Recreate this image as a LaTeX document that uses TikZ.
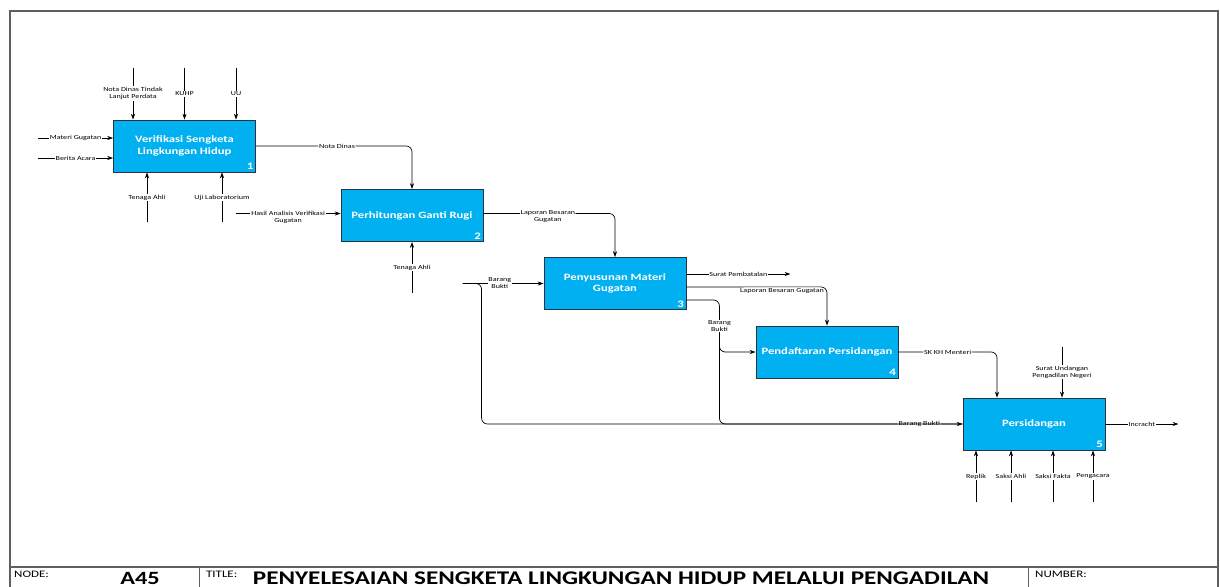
\documentclass[tikz,border=0pt]{standalone}
\usepackage{fontspec}
\setmainfont{Carlito}[FakeStretch=1.3]
\usetikzlibrary{arrows.meta, calc}
\definecolor{boxblue}{RGB}{0,176,240}
\definecolor{boxline}{RGB}{40,52,66}
\definecolor{framegray}{RGB}{95,95,95}
\tikzstyle{procbox} = [rectangle, minimum width=4.26cm, minimum height=1.56cm, text centered, align=center, draw=boxline, line width=0.7pt, fill=boxblue, text=white, font=\fontsize{8.3}{10}\selectfont\bfseries]
\tikzstyle{numlbl} = [anchor=south east, inner sep=2pt, text=white, font=\fontsize{8.5}{9}\selectfont\bfseries]
\tikzstyle{lbl} = [fill=white, inner sep=0.8pt, align=center, font=\fontsize{5.3}{6}\selectfont]
\tikzstyle{flow} = [line width=0.6pt, -{Stealth[length=5pt,width=3.5pt]}]
\tikzstyle{wire} = [line width=0.6pt]
\tikzstyle{strip} = [anchor=west, font=\fontsize{8.5}{9}\selectfont]

\begin{document}
\begin{tikzpicture}[x=0.03cm,y=-0.03cm]
\useasboundingbox (0,0) rectangle (1220,587);
% frame and title strip
\draw[framegray, line width=1pt] (10,587) -- (10,11) -- (1218,11) -- (1218,587);
\draw[framegray, line width=1.6pt] (10,567) -- (1218,567);
\draw[framegray, line width=0.8pt] (199,567) -- (199,587) (1028,567) -- (1028,587);
\node[strip] (nodelbl) at (10,574) {NODE:};
\node[font=\fontsize{16}{17}\selectfont\bfseries] (nodeno) at (140,578) {A45};
\node[strip] (titlelbl) at (202,574) {TITLE:};
\node[font=\fontsize{16.5}{17}\selectfont\bfseries] (title) at (621,578) {PENYELESAIAN SENGKETA LINGKUNGAN HIDUP MELALUI PENGADILAN};
\node[strip] (numlbl) at (1031,574) {NUMBER:};

% activities
\node[procbox] (p1) at (184.5,146) {Verifikasi Sengketa\\Lingkungan Hidup};
\node[procbox] (p2) at (412,215.5) {Perhitungan Ganti Rugi};
\node[procbox] (p3) at (615,283.5) {Penyusunan Materi\\Gugatan};
\node[procbox] (p4) at (827,352) {Pendaftaran Persidangan};
\node[procbox] (p5) at (1034,424) {Persidangan};
\foreach \b/\n in {p1/1,p2/2,p3/3,p4/4,p5/5}
	\node[numlbl] (n\n) at (\b.south east) {\n};

% box 1
\foreach \dx/\nm/\txt in {-51.5/ndt/{Nota Dinas Tindak\\Lanjut Perdata}, 0/kuhp/KUHP, 51.5/uu/UU}{
	\coordinate (\nm) at ($(p1.north)+(\dx,-52)$);
	\draw[flow] (\nm) -- node[lbl] (l\nm) {\txt} ($(p1.north)+(\dx,0)$);}
\foreach \dy/\nm/\txt in {-8/mg/Materi Gugatan, 12/ba/Berita Acara}{
	\coordinate (\nm) at ($(p1.west)+(-75,\dy)$);
	\draw[flow] (\nm) -- node[lbl] (l\nm) {\txt} ($(p1.west)+(0,\dy)$);}
\foreach \dx/\nm/\txt in {-37.5/ta1/Tenaga Ahli, 37.5/ul/Uji Laboratorium}{
	\coordinate (\nm) at ($(p1.south)+(\dx,50)$);
	\draw[flow] (\nm) -- node[lbl] (l\nm) {\txt} ($(p1.south)+(\dx,0)$);}
\draw[flow, rounded corners=5] (p1.east) -| node[lbl, pos=0.26] (lnd) {Nota Dinas} (p2.north);

% box 2
\coordinate (han) at ($(p2.west)+(-105,-2)$);
\draw[flow] (han) -- node[lbl, yshift=-3pt] (lhan) {Hasil Analisis Verifikasi\\Gugatan} ($(p2.west)+(0,-2)$);
\coordinate (ta2) at ($(p2.south)+(0,51)$);
\draw[flow] (ta2) -- node[lbl] (lta2) {Tenaga Ahli} (p2.south);
\draw[flow, rounded corners=5] ($(p2.east)+(0,-2)$) -| node[lbl, pos=0.245, yshift=-3pt] (llbg1) {Laporan Besaran\\Gugatan} (p3.north);

% box 3
\coordinate (bbin) at ($(p3.west)+(-81,0)$);
\draw[flow] (bbin) -- node[lbl, pos=0.46] (lbbin) {Barang\\Bukti} (p3.west);
\draw[flow, rounded corners=5] (bbin) -- ($(bbin)+(19,0)$) |- node[lbl, pos=0.955] (lbb5) {Barang Bukti} (p5.west);
\coordinate (spend) at ($(p3.east)+(104,-9.5)$);
\draw[flow] ($(p3.east)+(0,-9.5)$) -- node[lbl] (lsp) {Surat Pembatalan} (spend);
\draw[flow, rounded corners=5] ($(p3.east)+(0,3.5)$) -| node[lbl, pos=0.34, anchor=north] (llbg2) {Laporan Besaran Gugatan} (p4.north);
\coordinate (bbv) at ($(p3.east)+(33,16.5)$);
\draw[wire, rounded corners=5] ($(p3.east)+(0,16.5)$) -| (bbv |- p5.west) -- (p5.west);
\draw[flow, rounded corners=5] ($(bbv)+(0,35)$) |- (p4.west);
\node[lbl] (lbb4) at ($(bbv)+(0,26)$) {Barang\\Bukti};

% box 4
\draw[flow, rounded corners=5] (p4.east) -| node[lbl, pos=0.25] (lsk) {SK KH Menteri} ($(p5.north)+(-37,0)$);

% box 5
\coordinate (sup) at ($(p5.north)+(28,-51)$);
\draw[flow] (sup) -- node[lbl] (lsup) {Surat Undangan\\Pengadilan Negeri} ($(p5.north)+(28,0)$);
\coordinate (inc) at ($(p5.east)+(73,0)$);
\draw[flow] (p5.east) -- node[lbl] (linc) {Incracht} (inc);
\foreach \dx/\nm/\txt in {-58/rep/Replik, -23/sa/Saksi Ahli, 19/sf/Saksi Fakta, 59/pg/Pengacara}{
	\coordinate (\nm) at ($(p5.south)+(\dx,52)$);
	\draw[flow] (\nm) -- node[lbl] (l\nm) {\txt} ($(p5.south)+(\dx,0)$);}
\end{tikzpicture}
\end{document}
